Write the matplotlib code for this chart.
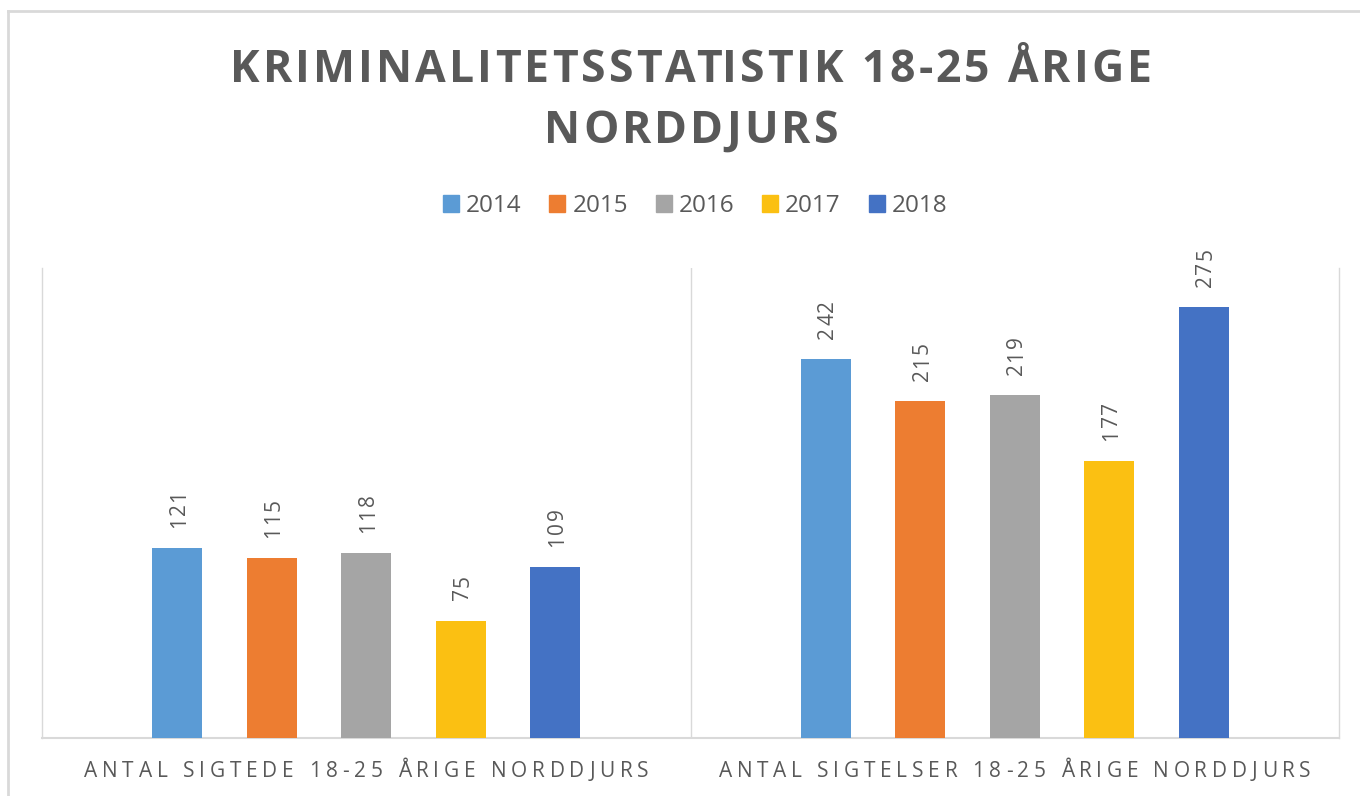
import numpy as np
import matplotlib.pyplot as plt
from matplotlib.font_manager import FontProperties
from matplotlib.transforms import IdentityTransform
from matplotlib.patches import Patch
from matplotlib.lines import Line2D

# data
years = ['2014', '2015', '2016', '2017', '2018']
categories = ['ANTAL SIGTEDE 18-25 ÅRIGE NORDDJURS', 'ANTAL SIGTELSER 18-25 ÅRIGE NORDDJURS']
sigtede = [121, 115, 118, 75, 109]
sigtelser = [242, 215, 219, 177, 275]
title_lines = ['KRIMINALITETSSTATISTIK 18-25 ÅRIGE', 'NORDDJURS']

colors = ['#5B9BD5', '#ED7D31', '#A5A5A5', '#FBC012', '#4472C4']
TEXT = '#595959'
GRID = '#D9D9D9'
FONT = 'Open Sans'

W, H = 1360, 796
fig = plt.figure(figsize=(W / 100, H / 100), dpi=100)
ax = fig.add_axes([42 / W, 1 - 738 / H, (1339 - 42) / W, (738 - 268) / H])
renderer = fig.canvas.get_renderer()


def text_width(s, prop):
    return renderer.get_text_width_height_descent(s, prop, ismath=False)[0]


def spaced_text(x, y, s, prop, spacing, rotation=0, align='center'):
    # draws s char by char with extra letter spacing, (x, y) in pixels on the baseline
    offs = [text_width(s[:i] + '|', prop) - text_width('|', prop) for i in range(len(s))]
    total = text_width(s, prop) + spacing * (len(s) - 1)
    start = -total / 2 if align == 'center' else 0
    for i, ch in enumerate(s):
        d = start + offs[i] + i * spacing
        px, py = (x + d, y) if rotation == 0 else (x, y + d)
        fig.text(px, py, ch, fontproperties=prop, color=TEXT, rotation=rotation,
                 rotation_mode='anchor', ha='left', va='baseline', transform=IdentityTransform())


# bars
n = len(years)
step = 0.1458
bw = 0.077
data = np.array([sigtede, sigtelser])
x = np.arange(len(categories))
for i in range(n):
    ax.bar(x + (i - (n - 1) / 2) * step, data[:, i], bw, color=colors[i], label=years[i], zorder=3)

ax.set_xlim(-0.5, 1.5)
ax.set_ylim(0, 300)
ax.set_xticks([])
ax.set_yticks([])
ax.axvline(0.5, color=GRID, lw=1, zorder=1)
for side in ['left', 'right', 'bottom']:
    ax.spines[side].set_color(GRID)
ax.spines['left'].set_linewidth(1)
ax.spines['right'].set_linewidth(1)
ax.spines['bottom'].set_linewidth(1.5)
ax.spines['top'].set_visible(False)

# value labels
val_prop = FontProperties(family=FONT, size=15)
for c in range(len(categories)):
    for i in range(n):
        px, py = ax.transData.transform((c + (i - (n - 1) / 2) * step, data[c, i]))
        spaced_text(px + 7.5, py + 20, str(data[c, i]), val_prop, 1.5, rotation=90, align='start')

# category labels
cat_prop = FontProperties(family=FONT, size=15)
cat_widths = [565, 592]
for c, lab in enumerate(categories):
    px, _ = ax.transData.transform((c, 0))
    sp = (cat_widths[c] - text_width(lab, cat_prop)) / (len(lab) - 1)
    spaced_text(px, H - 777, lab, cat_prop, sp)

# title
title_prop = FontProperties(family=FONT, size=32, weight='bold')
tsp = (922 - text_width(title_lines[0], title_prop)) / (len(title_lines[0]) - 1)
spaced_text(691, H - 82, title_lines[0], title_prop, tsp)
spaced_text(691, H - 143, title_lines[1], title_prop, tsp)

# legend
handles = [Patch(color=colors[i], label=years[i]) for i in range(n)]
fig.legend(handles=handles, loc='center', bbox_to_anchor=(695 / W, 1 - 206 / H), ncol=n,
           frameon=False, prop=FontProperties(family=FONT, size=17.5), labelcolor=TEXT,
           handlelength=0.66, handleheight=0.66, handletextpad=0.28, columnspacing=1.15)

# outer chart border (top and left edges visible)
fig.add_artist(Line2D([8 / W, 1], [1 - 11 / H, 1 - 11 / H], color=GRID, lw=2, transform=fig.transFigure))
fig.add_artist(Line2D([8 / W, 8 / W], [0, 1 - 11 / H], color=GRID, lw=2, transform=fig.transFigure))

fig.savefig('out.png', dpi=100)
